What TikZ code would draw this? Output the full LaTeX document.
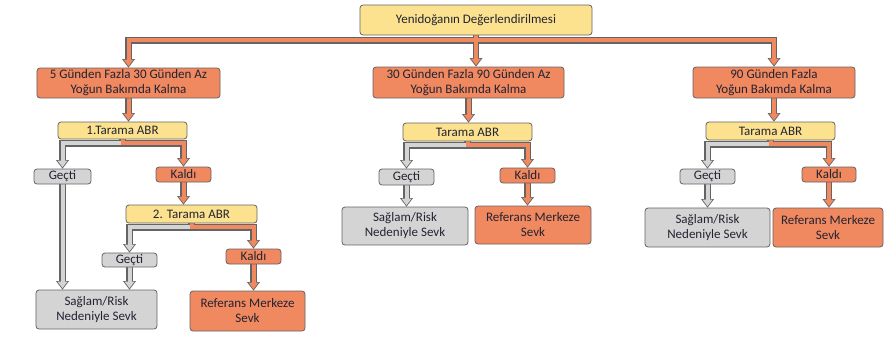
\documentclass[tikz,border=0pt]{standalone}
\usepackage{fontspec}
\setmainfont{Carlito}
\usetikzlibrary{arrows.meta,backgrounds}
\definecolor{org}{RGB}{240,136,96}
\definecolor{ylw}{RGB}{252,226,142}
\definecolor{gry}{RGB}{212,212,212}
\definecolor{bord}{RGB}{100,100,100}
\definecolor{txt}{RGB}{35,35,50}
\newcommand\fs{\fontsize{13bp}{15bp}\selectfont}
\tikzset{
  box/.style={draw=bord, line width=0.8bp, rounded corners=3bp, align=center, inner sep=0pt, text=txt, font=\fs},
  yb/.style={box, fill=ylw},
  ob/.style={box, fill=org},
  gb/.style={box, fill=gry},
  sz/.style 2 args={minimum width=#1 bp, minimum height=#2 bp},
  co/.style={draw=bord, line width=6.5bp, -{Triangle[width=13bp,length=8.5bp,line width=0pt]}},
  ci/.style={draw=#1, line width=4bp, shorten >=1.4bp, -{Triangle[width=10bp,length=6.6bp,line width=0pt]}}
}
\newcommand\allconns[3]{%
  \draw[#1=#2] (top.south) -- ++(0,5) -| (A.north);
  \draw[#1=#2] (top.south) -- ++(0,5) -| (C.north);
  \draw[#1=#2] (top.south) -- (top.south |- B.north);
  \draw[#1=#2] (A.south) -- (A.south |- T1.north);
  \draw[#1=#2] (B.south) -- (B.south |- T2.north);
  \draw[#1=#2] (C.south) -- (C.south |- T3.north);
  \draw[#1=#3] (T1.south) -- ++(0,4) -| (G1.north);
  \draw[#1=#2] (T1.south) -- ++(0,4) -| (K1.north);
  \draw[#1=#2] (K1.south) -- (K1.south |- T4.north);
  \draw[#1=#3] (T4.south) -- ++(0,4) -| (G2.north);
  \draw[#1=#2] (T4.south) -- ++(0,4) -| (K2.north);
  \draw[#1=#3] (G1.south) -- (G1.south |- S1.north);
  \draw[#1=#3] (G2.south) -- (G2.south |- S1.north);
  \draw[#1=#2] (K2.south) -- (K2.south |- R1.north);
  \draw[#1=#3] (T2.south) -- ++(0,4) -| (G3.north);
  \draw[#1=#2] (T2.south) -- ++(0,4) -| (K3.north);
  \draw[#1=#3] (G3.south) -- (G3.south |- S2.north);
  \draw[#1=#2] (K3.south) -- (K3.south |- R2.north);
  \draw[#1=#3] (T3.south) -- ++(0,4) -| (G4.north);
  \draw[#1=#2] (T3.south) -- ++(0,4) -| (K4.north);
  \draw[#1=#3] (G4.south) -- (G4.south |- S3.north);
  \draw[#1=#2] (K4.south) -- (K4.south |- R3.north);
}
\begin{document}
\begin{tikzpicture}[x=1bp,y=-1bp]
\useasboundingbox (0,0) rectangle (884,342);
\node[yb, sz={232}{30}] (top) at (476,20) {Yenidoğanın Değerlendirilmesi};
\node[ob, sz={183}{30}] (A) at (128.5,83) {5 Günden Fazla 30 Günden Az\\Yoğun Bakımda Kalma};
\node[ob, sz={191}{31}] (B) at (468.5,82.5) {30 Günden Fazla 90 Günden Az\\Yoğun Bakımda Kalma};
\node[ob, sz={162}{31}] (C) at (774,82.5) {90 Günden Fazla\\Yoğun Bakımda Kalma};
\node[yb, sz={129}{17}] (T1) at (122.5,130.5) {1.Tarama ABR};
\node[yb, sz={129}{18}] (T2) at (467.5,132) {Tarama ABR};
\node[yb, sz={129}{18}] (T3) at (770.5,131) {Tarama ABR};
\node[gb, sz={57}{15}] (G1) at (62.5,176.5) {Geçti};
\node[ob, sz={55}{15}] (K1) at (183.5,174.5) {Kaldı};
\node[yb, sz={131}{18}] (T4) at (191.5,214) {2. Tarama ABR};
\node[gb, sz={55}{14}] (G2) at (129.5,260) {Geçti};
\node[ob, sz={55}{15}] (K2) at (253.5,256.5) {Kaldı};
\node[gb, sz={121}{39}] (S1) at (96.5,309.5) {Sağlam/Risk\\Nedeniyle Sevk};
\node[ob, sz={115}{40}] (R1) at (247.5,311) {Referans Merkeze\\Sevk};
\node[gb, sz={55}{16}] (G3) at (406.5,177) {Geçti};
\node[ob, sz={55}{15}] (K3) at (527.5,175.5) {Kaldı};
\node[gb, sz={126}{38}] (S2) at (405,226) {Sağlam/Risk\\Nedeniyle Sevk};
\node[ob, sz={116}{38}] (R2) at (533,225) {Referans Merkeze\\Sevk};
\node[gb, sz={55}{15}] (G4) at (707.5,176.5) {Geçti};
\node[ob, sz={54}{15}] (K4) at (829,174.5) {Kaldı};
\node[gb, sz={125}{39}] (S3) at (707.5,227.5) {Sağlam/Risk\\Nedeniyle Sevk};
\node[ob, sz={110}{39}] (R3) at (828,227.5) {Referans Merkeze\\Sevk};
\begin{pgfonlayer}{background}
\allconns{co}{org}{gry}
\allconns{ci}{org}{gry}
\end{pgfonlayer}
\end{tikzpicture}
\end{document}
